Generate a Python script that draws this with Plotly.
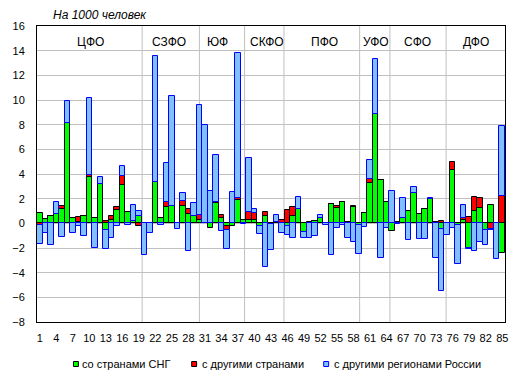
import plotly.graph_objects as go

regions = list(range(1, 86))

cis = [0.86, 0.38, 0.59, 0.78, 1.16, 8.11, 0.40, 0.10, 0.57, 3.77,
       0.46, 3.15, -0.57, 0.24, 1.08, 3.10, 0.92, 0.15, 0.59, 0.05,
       0.05, 3.34, 0.43, 1.35, 1.40, 0.05, 1.40, 0.78, 0.59, 0.30,
       0.05, -0.35, 1.62, 0.40, -0.24, -0.20, 1.91, 0.27, 0.30, 0.30,
       -0.25, 0.59, -0.05, 0.10, 0.05, -0.22, 0.59, 1.19, -0.70, 0.05,
       0.20, 0.43, 0.05, 1.59, 1.27, 1.75, 0.08, 1.30, -0.10, 0.82,
       3.29, 8.86, 3.50, 1.74, -0.66, 0.12, 0.42, 1.00, 2.45, 0.73,
       1.19, 1.94, 0.12, -0.45, 0.05, 4.31, -0.10, 0.30, -1.97, 1.00,
       1.27, -0.54, 1.48, 0.00, -2.37]

other_countries = [-0.10, 0, 0, 0, 0.24, 0, 0, 0.40, 0, 0.16,
                   0, 0.05, 0.15, 0.35, 0.24, 0.73, 0, 0, -0.19, 0,
                   0, 0, 0, 0.35, 0, 0, 0.43, 0.41, 0, 0.35,
                   0, 0, 0.13, 0.30, -0.33, 0, 0.11, 0, 0.63, 0.50,
                   0, 0.33, 0, 0, 0.22, 1.08, 0.76, 0, 0.05, 0.08,
                   0, 0, 0, 0, 0.10, 0, 0, 0.12, 0, 0,
                   0.33, 0, 0, 0, 0, 0, 0, 0, 0, 0,
                   0, 0, 0, 0.22, 0, 0.68, 0, 0.14, 0.51, 1.16,
                   0.75, 0, -0.43, 0, 2.21]

russia_regions = [-1.54, -0.75, -1.72, 0.97, -1.08, 1.81, -0.75, -0.20, -1.00, 6.20,
                  -1.97, 0.57, -1.48, -1.16, -0.20, 0.83, -0.13, 1.35, 0.41, -2.60,
                  -0.75, 10.24, -0.16, 3.20, 8.92, -0.43, 0.65, -2.26, 1.03, 8.95,
                  7.93, 2.64, 3.80, -0.65, -1.48, 2.56, 11.78, -0.08, 4.37, 0.40,
                  -0.65, -3.58, -2.10, 0.60, -0.80, -0.75, -1.20, 0.97, -0.50, -1.16,
                  -1.00, 0.24, -0.10, -2.60, -0.38, -0.12, -1.22, -1.48, -2.35, -0.28,
                  1.53, 4.45, -2.77, -0.37, 2.63, -0.05, 1.66, -1.38, 0.49, -1.24,
                  -1.24, 0.08, -2.78, -5.07, -0.97, -0.35, -3.20, 1.06, -0.08, -2.24,
                  -1.48, -1.19, -0.11, -2.86, 5.69]

x_ticks = list(range(1, 86, 3))

district_names = ["ЦФО", "СЗФО", "ЮФ", "СКФО", "ПФО", "УФО", "СФО", "ДФО"]
district_label_pos = [10.2, 24.5, 33.35, 42.2, 52.8, 62.1, 69.6, 80.2]
district_bounds = [19.6, 30.0, 38.2, 45.35, 59.1, 64.6, 74.8]

series_names = ["со странами СНГ", "с другими странами", "с другими регионами России"]

FONT = "Liberation Sans, Arial, sans-serif"
GREEN = "#00ff00"
RED = "#ff0000"
BLUE_FILL = "#80c0ff"
BLUE_LINE = "#0000ff"

fig = go.Figure()
fig.add_trace(go.Bar(x=regions, y=cis, name=series_names[0],
                     marker=dict(color=GREEN, line=dict(color="black", width=1)),
                     showlegend=False))
fig.add_trace(go.Bar(x=regions, y=other_countries, name=series_names[1],
                     marker=dict(color=RED, line=dict(color="black", width=1)),
                     showlegend=False))
fig.add_trace(go.Bar(x=regions, y=russia_regions, name=series_names[2],
                     marker=dict(color=BLUE_FILL, line=dict(color=BLUE_LINE, width=1)),
                     showlegend=False))

W, H = 520, 379
ml, mr, mt, mb = 33, 12, 26, 57
pw, ph = W - ml - mr, H - mt - mb

def px_x(px):
    return (px - ml) / pw

def px_y(py):
    return (H - mb - py) / ph

shapes = []
for b in district_bounds:
    shapes.append(dict(type="line", xref="x", yref="paper", x0=b, x1=b, y0=0, y1=1,
                       line=dict(color="#c0c0c0", width=1), layer="below"))

annotations = []
for name, pos in zip(district_names, district_label_pos):
    annotations.append(dict(x=pos, y=14.7, xref="x", yref="y", text=name, showarrow=False,
                            font=dict(family=FONT, size=12, color="black"),
                            xanchor="center", yanchor="middle"))

annotations.append(dict(x=px_x(47), y=px_y(15), xref="paper", yref="paper",
                        text="<i>На 1000 человек</i>", showarrow=False,
                        font=dict(family=FONT, size=12, color="black"),
                        xanchor="left", yanchor="middle"))

# legend (squares + text)
legend_items = [(70, 77, GREEN, "black"), (190, 198, RED, "black"), (324, 332, BLUE_FILL, BLUE_LINE)]
for (sq, tx, fill, line), name in zip(legend_items, series_names):
    shapes.append(dict(type="rect", xref="paper", yref="paper",
                       x0=px_x(sq), x1=px_x(sq + 5), y0=px_y(366.5), y1=px_y(361.5),
                       fillcolor=fill, line=dict(color=line, width=1)))
    annotations.append(dict(x=px_x(tx), y=px_y(364), xref="paper", yref="paper",
                            text=name, showarrow=False,
                            font=dict(family=FONT, size=11, color="black"),
                            xanchor="left", yanchor="middle"))

fig.update_layout(
    width=W, height=H,
    margin=dict(l=ml, r=mr, t=mt, b=mb, pad=0),
    barmode="relative", bargap=0,
    paper_bgcolor="white", plot_bgcolor="white",
    font=dict(family=FONT, size=11, color="black"),
    shapes=shapes, annotations=annotations,
    showlegend=False,
)
fig.update_xaxes(range=[0.5, 85.5], tickmode="array", tickvals=x_ticks,
                 ticktext=[str(v) for v in x_ticks], showgrid=False,
                 showline=True, linecolor="black", linewidth=1, mirror=True,
                 ticks="", ticklabelstandoff=6, zeroline=False,
                 tickfont=dict(family=FONT, size=11, color="black"))
fig.update_yaxes(range=[-8, 16], dtick=2, tick0=0, showgrid=True, gridcolor="#c0c0c0",
                 gridwidth=1, showline=True, linecolor="black", linewidth=1, mirror=True,
                 ticks="", ticklabelstandoff=9, zeroline=False,
                 tickfont=dict(family=FONT, size=11, color="black"))

fig.write_html("out.html",
               config={"displayModeBar": False},
               post_script="document.body.style.margin='0';document.body.style.overflow='hidden';")
